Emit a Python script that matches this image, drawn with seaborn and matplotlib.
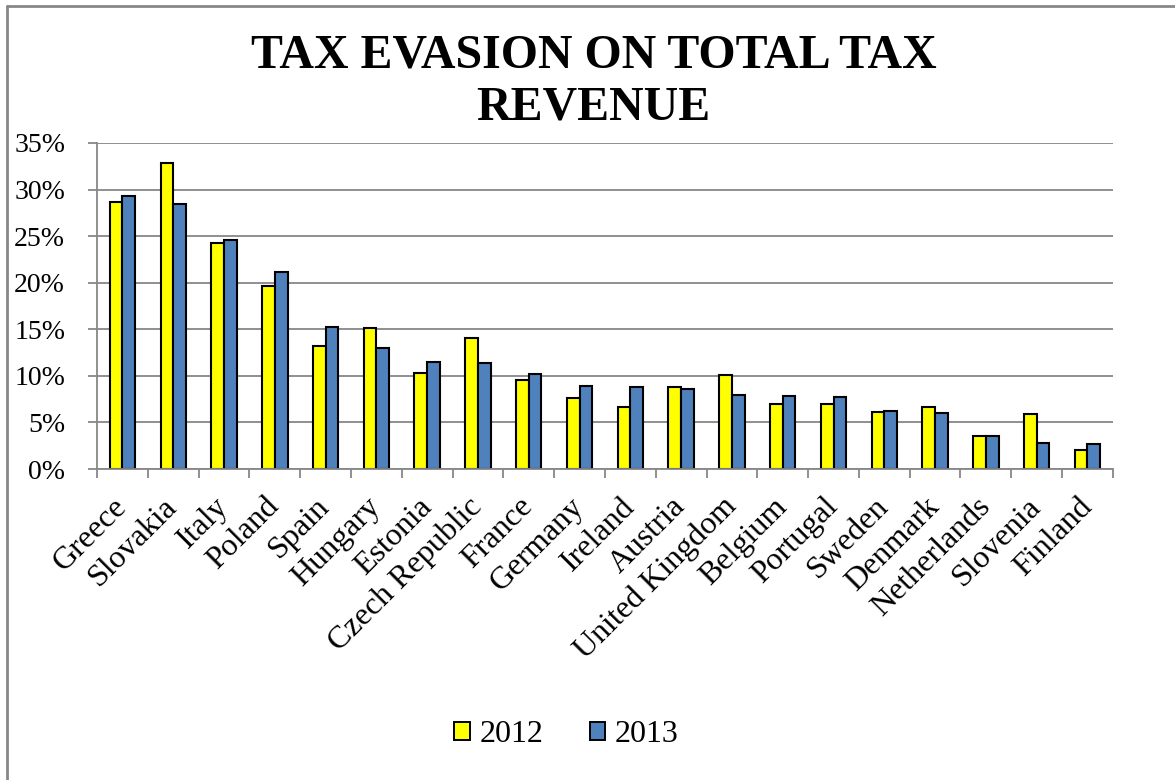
import matplotlib
matplotlib.use("Agg")
import matplotlib.pyplot as plt
from matplotlib.patches import Rectangle
from matplotlib.lines import Line2D
from matplotlib.ticker import PercentFormatter, FixedLocator
import seaborn as sns
import pandas as pd

countries = ["Greece", "Slovakia", "Italy", "Poland", "Spain", "Hungary", "Estonia",
             "Czech Republic", "France", "Germany", "Ireland", "Austria",
             "United Kingdom", "Belgium", "Portugal", "Sweden", "Denmark",
             "Netherlands", "Slovenia", "Finland"]
evasion_2012 = [28.7, 32.8, 24.3, 19.7, 13.2, 15.15, 10.3, 14.1, 9.6, 7.65,
                6.65, 8.85, 10.05, 6.95, 7.0, 6.1, 6.65, 3.55, 5.9, 2.05]
evasion_2013 = [29.35, 28.45, 24.6, 21.15, 15.2, 13.0, 11.45, 11.4, 10.25, 8.9,
                8.8, 8.55, 7.9, 7.8, 7.75, 6.2, 6.0, 3.5, 2.8, 2.7]
years = ["2012", "2013"]
y_ticks = [0, 5, 10, 15, 20, 25, 30, 35]

df = pd.DataFrame({
    "country": countries * 2,
    "year": [years[0]] * len(countries) + [years[1]] * len(countries),
    "value": evasion_2012 + evasion_2013,
})

sns.set_theme(style="white")
plt.rcParams["font.family"] = ["Liberation Serif", "DejaVu Serif"]
plt.rcParams["text.color"] = "black"
plt.rcParams["xtick.color"] = "black"
plt.rcParams["ytick.color"] = "black"

fig = plt.figure(figsize=(11.75, 7.8), dpi=100)
ax = fig.add_axes([0.0826, 0.3987, 0.8645, 0.418])

palette = {"2012": "#FFFF00", "2013": "#4F81BD"}
sns.barplot(data=df, x="country", y="value", hue="year", palette=palette,
            width=0.5, edgecolor="black", linewidth=1.5, saturation=1,
            ax=ax, legend=False)

ax.set_ylim(0, 35)
ax.set_xlim(-0.5, len(countries) - 0.5)
ax.yaxis.set_major_locator(FixedLocator(y_ticks))
ax.yaxis.set_major_formatter(PercentFormatter(decimals=0))
ax.yaxis.grid(True, color="#878787", linewidth=1.3)
ax.set_axisbelow(True)
ax.set_xlabel("")
ax.set_ylabel("")

for side in ["top", "right"]:
    ax.spines[side].set_visible(False)
for side in ["left", "bottom"]:
    ax.spines[side].set_color("#878787")
    ax.spines[side].set_linewidth(1.3)

# category ticks sit between groups, as in spreadsheet charts
ax.set_xticks([i - 0.5 for i in range(len(countries) + 1)], minor=True)
ax.tick_params(axis="x", which="minor", length=6.5, width=1.3, color="#878787",
               direction="out", bottom=True)
ax.tick_params(axis="x", which="major", length=0, pad=24)
ax.tick_params(axis="y", which="major", length=6.5, width=1.3, color="#878787",
               direction="out", left=True, labelsize=20, pad=16.5)
ax.set_xticks(range(len(countries)))
ax.set_xticklabels(countries, rotation=45, ha="right", va="center",
                   rotation_mode="anchor", fontsize=23)

fig.text(0.505, 0.957, "TAX EVASION ON TOTAL TAX\nREVENUE", ha="center", va="top",
         fontsize=34.5, fontweight="bold", linespacing=1.23)

handles = [Rectangle((0, 0), 1, 1, facecolor=palette[y], edgecolor="black", linewidth=1.4)
           for y in years]
fig.legend(handles, years, loc="center", bbox_to_anchor=(0.482, 0.058), ncol=2,
           frameon=False, fontsize=23, handlelength=0.5, handleheight=0.5,
           handletextpad=0.3, columnspacing=1.45)

# chart area border (top and left edges fall inside the canvas)
border = dict(transform=fig.transFigure, color="#878787", linewidth=2)
fig.add_artist(Line2D([0.006, 1.0], [0.9923, 0.9923], **border))
fig.add_artist(Line2D([0.006, 0.006], [0.0, 0.9923], **border))

fig.savefig("out.png", dpi=100, facecolor="white")
